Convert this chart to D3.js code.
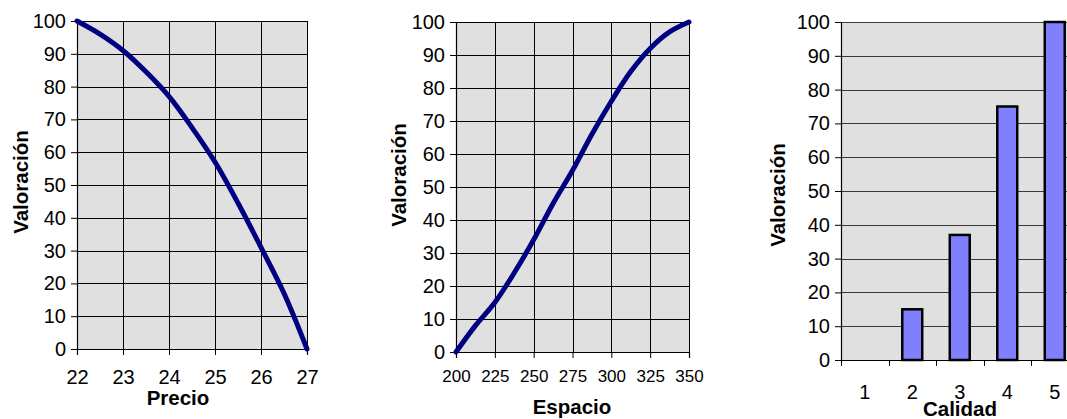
<!DOCTYPE html>
<html>
<head>
<meta charset="utf-8">
<script src="https://cdn.jsdelivr.net/npm/d3@7"></script>
<style>
  html, body { margin: 0; padding: 0; background: #fff; overflow: hidden; }
  svg { display: block; }
  text { font-family: "Liberation Sans", Arial, sans-serif; fill: #000; }
</style>
</head>
<body>
<svg id="chart" width="1067" height="419"></svg>
<script>
// Utility curves and bar values
const precioX = [22, 22.5, 23, 23.5, 24, 24.5, 25, 25.5, 26, 26.5, 27];
const precioVal = [100, 96, 91, 84.5, 77, 67.5, 57, 44.5, 31, 17, 0];
const precioTicks = [22, 23, 24, 25, 26, 27];

const espacioX = [200, 212.5, 225, 237.5, 250, 262.5, 275, 287.5, 300, 312.5, 325, 337.5, 350];
const espacioVal = [0, 8, 15, 24, 34, 45, 55, 66, 76, 85, 92, 97, 100];
const espacioTicks = [200, 225, 250, 275, 300, 325, 350];

const calidadCats = ["1", "2", "3", "4", "5"];
const calidadVal = [0, 15, 37, 75, 100];

const yTicks = [0, 10, 20, 30, 40, 50, 60, 70, 80, 90, 100];
const yLabel = "Valoración";

const svg = d3.select("#chart");
const BG = "#e0e0e0";
const LINE = "#000080";
const BAR = "#8080ff";
const TICK_FONT = "20px";
const TITLE_FONT = "20.5px";

function yAxisPart(g, y, x0, x1, gridColor) {
  // horizontal grid lines
  g.selectAll(".hgrid").data(yTicks).join("line")
    .attr("x1", x0).attr("x2", x1)
    .attr("y1", d => Math.round(y(d)) + 0.5).attr("y2", d => Math.round(y(d)) + 0.5)
    .attr("stroke", gridColor).attr("stroke-width", 1);
  // left axis with outside ticks
  const ax = g.append("g").attr("transform", `translate(${x0},0)`)
    .call(d3.axisLeft(y).tickValues(yTicks).tickSize(6).tickPadding(5).tickFormat(d3.format("d")));
  ax.select(".domain").attr("stroke", "#000").attr("stroke-width", 1.2);
  ax.selectAll(".tick line").attr("stroke", "#000");
  ax.selectAll(".tick text").style("font-size", TICK_FONT).attr("fill", "#000");
}

function rotatedLabel(g, x, y) {
  g.append("text").attr("transform", `translate(${x},${y}) rotate(-90)`)
    .attr("text-anchor", "middle").attr("dominant-baseline", "central")
    .style("font-size", TITLE_FONT).style("font-weight", "bold").text(yLabel);
}

const smooth = d3.curveCatmullRom.alpha(0.5);

// ---- Precio line chart ----
(function () {
  const g = svg.append("g");
  const x = d3.scaleLinear().domain([22, 27]).range([77, 307]);
  const y = d3.scaleLinear().domain([0, 100]).range([349, 21]);
  g.append("rect").attr("x", 77).attr("y", 21).attr("width", 230).attr("height", 328).attr("fill", BG);
  g.selectAll(".vgrid").data(precioTicks).join("line")
    .attr("x1", d => Math.round(x(d)) + 0.5).attr("x2", d => Math.round(x(d)) + 0.5)
    .attr("y1", 21).attr("y2", 349).attr("stroke", "#000").attr("stroke-width", 1);
  yAxisPart(g, y, 77, 307, "#000");
  const xa = g.append("g").attr("transform", "translate(0,349)")
    .call(d3.axisBottom(x).tickValues(precioTicks).tickSize(6).tickPadding(15).tickFormat(d3.format("d")));
  xa.select(".domain").attr("stroke", "#000").attr("stroke-width", 1.2);
  xa.selectAll(".tick text").style("font-size", TICK_FONT).attr("fill", "#000");
  g.append("path").datum(precioX.map((v, i) => [v, precioVal[i]]))
    .attr("d", d3.line().x(d => x(d[0])).y(d => y(d[1])).curve(smooth))
    .attr("fill", "none").attr("stroke", LINE).attr("stroke-width", 5).attr("stroke-linecap", "round");
  g.append("text").attr("x", 178).attr("y", 405).attr("text-anchor", "middle")
    .style("font-size", TITLE_FONT).style("font-weight", "bold").text("Precio");
  rotatedLabel(g, 20, 182);
})();

// ---- Espacio line chart ----
(function () {
  const g = svg.append("g");
  const x = d3.scaleLinear().domain([200, 350]).range([456, 689]);
  const y = d3.scaleLinear().domain([0, 100]).range([352, 22]);
  g.append("rect").attr("x", 456).attr("y", 22).attr("width", 233).attr("height", 330).attr("fill", BG);
  g.selectAll(".vgrid").data(espacioTicks).join("line")
    .attr("x1", d => Math.round(x(d)) + 0.5).attr("x2", d => Math.round(x(d)) + 0.5)
    .attr("y1", 22).attr("y2", 352).attr("stroke", "#000").attr("stroke-width", 1);
  yAxisPart(g, y, 456, 689, "#000");
  const xa = g.append("g").attr("transform", "translate(0,352)")
    .call(d3.axisBottom(x).tickValues(espacioTicks).tickSize(6).tickPadding(12).tickFormat(d3.format("d")));
  xa.select(".domain").attr("stroke", "#000").attr("stroke-width", 1.2);
  xa.selectAll(".tick text").style("font-size", "17px").attr("fill", "#000");
  g.append("path").datum(espacioX.map((v, i) => [v, espacioVal[i]]))
    .attr("d", d3.line().x(d => x(d[0])).y(d => y(d[1])).curve(smooth))
    .attr("fill", "none").attr("stroke", LINE).attr("stroke-width", 5).attr("stroke-linecap", "round");
  g.append("text").attr("x", 572).attr("y", 414).attr("text-anchor", "middle")
    .style("font-size", TITLE_FONT).style("font-weight", "bold").text("Espacio");
  rotatedLabel(g, 398, 175);
})();

// ---- Calidad bar chart ----
(function () {
  const g = svg.append("g");
  const x = d3.scaleBand().domain(calidadCats).range([841, 1078.5]);
  const y = d3.scaleLinear().domain([0, 100]).range([360, 22]);
  g.append("rect").attr("x", 841).attr("y", 22).attr("width", 237.5).attr("height", 338).attr("fill", BG);
  yAxisPart(g, y, 841, 1078.5, "#3a3a3a");
  // ticks on category boundaries
  const bounds = calidadCats.map(c => x(c)).concat([x.range()[1]]);
  g.selectAll(".ctick").data(bounds).join("line")
    .attr("x1", d => Math.round(d) + 0.5).attr("x2", d => Math.round(d) + 0.5)
    .attr("y1", 360).attr("y2", 366).attr("stroke", "#000");
  g.append("line").attr("x1", 841).attr("x2", 1078.5).attr("y1", 360.5).attr("y2", 360.5)
    .attr("stroke", "#000").attr("stroke-width", 1.2);
  const bw = x.bandwidth() * 0.42;
  g.selectAll(".bar").data(calidadCats.map((c, i) => ({ c, v: calidadVal[i] })).filter(d => d.v > 0)).join("rect")
    .attr("x", d => x(d.c) + x.bandwidth() / 2 - bw / 2)
    .attr("y", d => y(d.v))
    .attr("width", bw)
    .attr("height", d => y(0) - y(d.v))
    .attr("fill", BAR).attr("stroke", "#000").attr("stroke-width", 2.5);
  g.selectAll(".clab").data(calidadCats).join("text")
    .attr("x", d => x(d) + x.bandwidth() / 2).attr("y", 399)
    .attr("text-anchor", "middle").style("font-size", TICK_FONT).text(d => d);
  g.append("text").attr("x", 960).attr("y", 416).attr("text-anchor", "middle")
    .style("font-size", TITLE_FONT).style("font-weight", "bold").text("Calidad");
  rotatedLabel(g, 777, 195);
})();
</script>
</body>
</html>
